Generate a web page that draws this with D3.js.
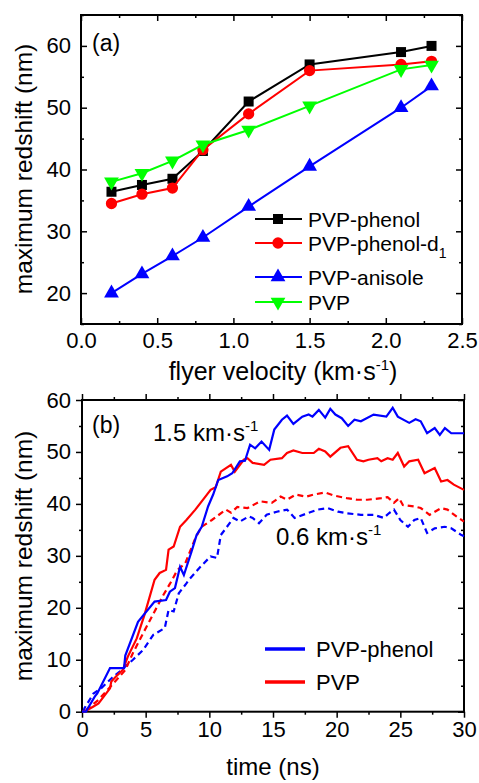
<!DOCTYPE html>
<html>
<head>
<meta charset="utf-8">
<script src="https://cdn.jsdelivr.net/npm/d3@7"></script>
<style>
  body { margin: 0; background: #fff; }
  text { font-family: Arial, "Liberation Sans", sans-serif; fill: #000; }
</style>
</head>
<body>
<svg id="chart" width="479" height="783"></svg>
<script>
// ---- panel (a): redshift vs flyer velocity ----
const velocity   = [0.2, 0.4, 0.6, 0.8, 1.1, 1.5, 2.1, 2.3];
const phenolA    = [36.4, 37.5, 38.5, 43.0, 51.0, 57.0, 59.0, 60.0];
const phenolD1A  = [34.5, 36.0, 37.0, 43.2, 49.0, 56.0, 57.0, 57.5];
const anisoleA   = [20.0, 23.1, 26.0, 29.0, 34.0, 40.5, 50.0, 53.5];
const pvpA       = [38.0, 39.4, 41.4, 44.0, 46.4, 50.3, 56.2, 56.9];
const xTicksA    = [0, 0.5, 1.0, 1.5, 2.0, 2.5];
const yTicksA    = [20, 30, 40, 50, 60];

// ---- panel (b): redshift vs time ----
const tPhenol15 = [0, 0.3, 1.0, 1.2, 2.2, 3.3, 3.4, 4.4, 5.7, 6.6, 6.9, 7.3, 7.7, 8.0, 8.6, 9.0, 9.4, 9.9, 10.3, 10.7, 11.4, 11.8, 12.4, 12.8, 13.2, 13.6, 14.1, 14.7, 15.1, 15.7, 16.1, 16.6, 17.3, 17.8, 18.1, 18.6, 19.1, 19.5, 19.9, 20.4, 20.9, 21.4, 21.9, 22.9, 23.9, 24.4, 24.8, 25.7, 26.2, 26.6, 27.1, 27.7, 28.1, 28.5, 29.0, 30.0];
const vPhenol15 = [0, 0, 2.9, 3.5, 8.4, 8.4, 10.8, 17.3, 21.2, 21.5, 23.1, 23.8, 27.9, 26.3, 30.8, 34.0, 35.6, 39.5, 41.8, 44.6, 45.3, 45.9, 48.2, 48.3, 51.4, 50.7, 52.0, 50.4, 54.3, 56.2, 57.0, 55.4, 56.8, 57.2, 56.8, 58.1, 56.6, 58.3, 57.2, 56.5, 55.0, 56.2, 55.9, 57.2, 56.8, 58.5, 56.8, 55.6, 56.3, 55.9, 53.6, 54.6, 53.3, 54.6, 53.6, 53.6];

const tPvp15 = [0, 0.2, 0.9, 1.3, 2.2, 2.3, 2.8, 3.2, 3.6, 4.3, 4.9, 5.7, 6.1, 6.6, 6.8, 7.2, 7.7, 8.2, 8.9, 9.6, 10.1, 10.5, 10.9, 11.7, 12.0, 12.7, 13.0, 13.4, 14.3, 14.8, 15.7, 16.1, 16.6, 17.3, 18.2, 18.6, 19.1, 19.5, 20.3, 20.9, 21.6, 22.1, 22.5, 23.2, 23.5, 24.0, 24.4, 24.8, 25.3, 25.7, 26.4, 26.9, 27.7, 28.2, 28.7, 29.2, 30.0];
const vPvp15 = [0, 0, 1.0, 1.6, 4.5, 5.8, 7.1, 8.0, 10.6, 14.1, 18.6, 25.4, 26.7, 27.3, 31.2, 31.8, 35.6, 36.9, 38.9, 41.1, 42.7, 43.2, 46.2, 47.5, 46.2, 48.5, 48.8, 47.9, 47.5, 48.5, 48.8, 49.8, 50.3, 49.8, 49.8, 50.6, 50.1, 49.1, 50.8, 51.1, 48.5, 48.2, 48.5, 48.8, 48.2, 48.8, 48.5, 49.8, 47.2, 48.2, 48.5, 45.9, 46.9, 44.3, 44.6, 43.7, 42.7];

const tPvp06 = [0.3, 1.3, 2.0, 2.6, 3.4, 4.0, 4.8, 5.7, 6.4, 6.9, 7.5, 8.1, 8.9, 9.4, 10.2, 11.3, 11.7, 12.2, 13.0, 14.0, 14.9, 15.6, 16.1, 16.8, 17.6, 18.2, 19.1, 19.8, 20.8, 21.6, 22.4, 23.5, 24.0, 24.5, 24.9, 25.2, 26.1, 26.6, 27.3, 28.2, 28.7, 29.4, 30.0];
const vPvp06 = [0.3, 2.3, 4.2, 5.8, 8.0, 11.3, 15.1, 19.3, 22.5, 24.6, 27.3, 28.5, 33.4, 35.6, 36.9, 38.9, 38.3, 39.4, 39.2, 40.5, 40.2, 41.4, 40.8, 41.8, 41.4, 41.8, 42.2, 41.6, 41.1, 40.8, 40.8, 41.1, 41.3, 40.2, 41.1, 39.8, 39.5, 39.2, 37.9, 39.2, 38.9, 37.6, 36.6];

const tPhenol06 = [0.1, 0.2, 0.5, 0.9, 1.5, 2.3, 3.1, 3.4, 4.0, 4.8, 5.6, 6.5, 6.8, 7.2, 7.6, 8.2, 8.4, 9.3, 10.1, 10.6, 10.9, 11.3, 11.9, 12.4, 13.1, 13.4, 13.9, 14.5, 15.3, 16.1, 16.7, 17.7, 18.5, 19.3, 20.1, 20.8, 21.9, 22.9, 23.7, 24.1, 24.5, 25.0, 25.6, 26.1, 26.6, 27.1, 27.7, 28.5, 29.0, 29.8, 30.0];
const vPhenol06 = [0, 0.7, 1.9, 3.5, 4.5, 6.4, 8.0, 8.7, 10.0, 11.9, 14.8, 16.1, 19.6, 19.3, 22.8, 24.7, 25.4, 27.9, 29.9, 29.6, 34.0, 35.3, 37.3, 36.6, 37.6, 37.3, 36.3, 37.9, 38.5, 38.9, 37.3, 38.2, 38.9, 39.2, 38.5, 38.2, 37.9, 37.9, 37.3, 38.2, 38.9, 36.9, 35.6, 36.9, 37.3, 34.4, 35.3, 35.6, 35.3, 34.0, 33.8];

const xTicksB = [0, 5, 10, 15, 20, 25, 30];
const yTicksB = [0, 10, 20, 30, 40, 50, 60];

const svg = d3.select('#chart');
const fs = 22;

// draws frame + ticks on four sides; dir: 1 outward, -1 inward
function drawFrame(g, x, y, o) {
  const [x0, x1] = x.range(), [y0, y1] = y.range();
  const sides = [
    {ax: d3.axisBottom, sc: x, tr: `translate(0,${y0})`, dir: o.bottom, maj: o.xMajor, min: o.xMinor, lab: o.xFmt},
    {ax: d3.axisTop,    sc: x, tr: `translate(0,${y1})`, dir: o.top,    maj: o.xMajor, min: o.xMinor, lab: null},
    {ax: d3.axisLeft,   sc: y, tr: `translate(${x0},0)`, dir: o.left,   maj: o.yMajor, min: o.yMinor, lab: o.yFmt},
    {ax: d3.axisRight,  sc: y, tr: `translate(${x1},0)`, dir: o.right,  maj: o.yMajor, min: o.yMinor, lab: null}
  ];
  sides.forEach(s => {
    const a = g.append('g').attr('transform', s.tr)
      .call(s.ax(s.sc).tickValues(s.min).tickSize(s.dir * 3).tickFormat(''));
    a.select('.domain').remove();
    const b = g.append('g').attr('transform', s.tr)
      .call(s.ax(s.sc).tickValues(s.maj).tickSize(s.dir * 6)
        .tickPadding(s.lab ? (s.sc === x ? o.xPad : o.yPad) : 0)
        .tickFormat(s.lab ? s.lab : ''));
    b.select('.domain').remove();
    b.selectAll('text').style('font-size', fs + 'px').attr('fill', '#000');
    g.selectAll('.tick line').attr('stroke', '#000').attr('stroke-width', 1.5);
  });
  g.append('rect').attr('x', x0).attr('y', y1)
    .attr('width', x1 - x0).attr('height', y0 - y1)
    .attr('fill', 'none').attr('stroke', '#000').attr('stroke-width', 2);
}

function yTitle(cy) {
  svg.append('text')
    .attr('transform', `translate(32,${cy}) rotate(-90)`)
    .attr('text-anchor', 'middle').style('font-size', '24.5px')
    .text('maximum redshift (nm)');
}

// ================= panel (a) =================
const xA = d3.scaleLinear().domain([0, 2.5]).range([81, 462]);
const yA = d3.scaleLinear().domain([15, 65]).range([324, 15]);
const gA = svg.append('g');

drawFrame(gA, xA, yA, {
  xMajor: xTicksA, xMinor: [0.25, 0.75, 1.25, 1.75, 2.25],
  yMajor: yTicksA, yMinor: [15, 25, 35, 45, 55, 65],
  bottom: -1, top: -1, left: -1, right: -1,
  xFmt: d3.format('.1f'), yFmt: d3.format('d'), xPad: 8, yPad: 10
});

const seriesA = [
  {name: 'PVP-phenol',  vals: phenolA,   color: '#000000', sym: d3.symbolSquare,   size: 100, rot: 0},
  {name: 'PVP-phenol-d', vals: phenolD1A, color: '#ff0000', sym: d3.symbolCircle,   size: 100, rot: 0},
  {name: 'PVP-anisole', vals: anisoleA,  color: '#0000ff', sym: d3.symbolTriangle, size: 95,  rot: 0},
  {name: 'PVP',         vals: pvpA,      color: '#00ff00', sym: d3.symbolTriangle, size: 95,  rot: 180}
];

const lineA = d3.line().x((d, i) => xA(velocity[i])).y(d => yA(d));
seriesA.forEach(s => {
  gA.append('path').datum(s.vals).attr('d', lineA)
    .attr('fill', 'none').attr('stroke', s.color).attr('stroke-width', 2);
  gA.selectAll(null).data(s.vals).enter().append('path')
    .attr('d', d3.symbol().type(s.sym).size(s.size))
    .attr('transform', (d, i) => `translate(${xA(velocity[i])},${yA(d)}) rotate(${s.rot})`)
    .attr('fill', s.color);
});

gA.append('text').attr('x', 92).attr('y', 51).style('font-size', '23px').text('(a)');

// legend (a)
const legRowsA = [219, 243, 277, 302];
seriesA.forEach((s, i) => {
  const ly = legRowsA[i];
  gA.append('line').attr('x1', 255).attr('x2', 302).attr('y1', ly).attr('y2', ly)
    .attr('stroke', s.color).attr('stroke-width', 2);
  gA.append('path').attr('d', d3.symbol().type(s.sym).size(s.size))
    .attr('transform', `translate(278,${ly}) rotate(${s.rot})`).attr('fill', s.color);
  const t = gA.append('text').attr('x', 308).attr('y', ly + 8).style('font-size', '21px').text(s.name);
  if (i === 1) t.append('tspan').attr('dy', 7).style('font-size', '14px').text('1');
});

// axis titles (a)
const tA = svg.append('text').attr('x', 283).attr('y', 380)
  .attr('text-anchor', 'middle').style('font-size', '25px');
tA.append('tspan').text('flyer velocity (km·s');
tA.append('tspan').attr('dy', -10).style('font-size', '15px').text('-1');
tA.append('tspan').attr('dy', 10).text(')');
yTitle(169);

// ================= panel (b) =================
const xB = d3.scaleLinear().domain([0, 30]).range([82, 464]);
const yB = d3.scaleLinear().domain([0, 60]).range([711.7, 400]);
const gB = svg.append('g');

drawFrame(gB, xB, yB, {
  xMajor: xTicksB, xMinor: [2.5, 7.5, 12.5, 17.5, 22.5, 27.5],
  yMajor: yTicksB, yMinor: [5, 15, 25, 35, 45, 55],
  bottom: 1, top: 1, left: 1, right: -1,
  xFmt: d3.format('d'), yFmt: d3.format('d'), xPad: 4, yPad: 5
});

const seriesB = [
  {t: tPhenol06, v: vPhenol06, color: '#0000ff', dash: '6,4'},
  {t: tPvp06,    v: vPvp06,    color: '#ff0000', dash: '6,4'},
  {t: tPvp15,    v: vPvp15,    color: '#ff0000', dash: null},
  {t: tPhenol15, v: vPhenol15, color: '#0000ff', dash: null}
];
seriesB.forEach(s => {
  const ln = d3.line().x((d, i) => xB(s.t[i])).y(d => yB(d));
  gB.append('path').datum(s.v).attr('d', ln)
    .attr('fill', 'none').attr('stroke', s.color).attr('stroke-width', 2.2)
    .attr('stroke-dasharray', s.dash);
});

gB.append('text').attr('x', 92).attr('y', 433).style('font-size', '23px').text('(b)');

function speedLabel(x, y, txt) {
  const t = gB.append('text').attr('x', x).attr('y', y).style('font-size', '24px');
  t.append('tspan').text(txt + ' km·s');
  t.append('tspan').attr('dy', -10).style('font-size', '15px').text('-1');
}
speedLabel(153, 441, '1.5');
speedLabel(276, 545, '0.6');

// legend (b)
[{name: 'PVP-phenol', color: '#0000ff', y: 649}, {name: 'PVP', color: '#ff0000', y: 682}].forEach(l => {
  gB.append('line').attr('x1', 265).attr('x2', 305).attr('y1', l.y).attr('y2', l.y)
    .attr('stroke', l.color).attr('stroke-width', 3.5);
  gB.append('text').attr('x', 316).attr('y', l.y + 8).style('font-size', '22px').text(l.name);
});

svg.append('text').attr('x', 273).attr('y', 775)
  .attr('text-anchor', 'middle').style('font-size', '24px').text('time (ns)');
yTitle(556);
</script>
</body>
</html>
